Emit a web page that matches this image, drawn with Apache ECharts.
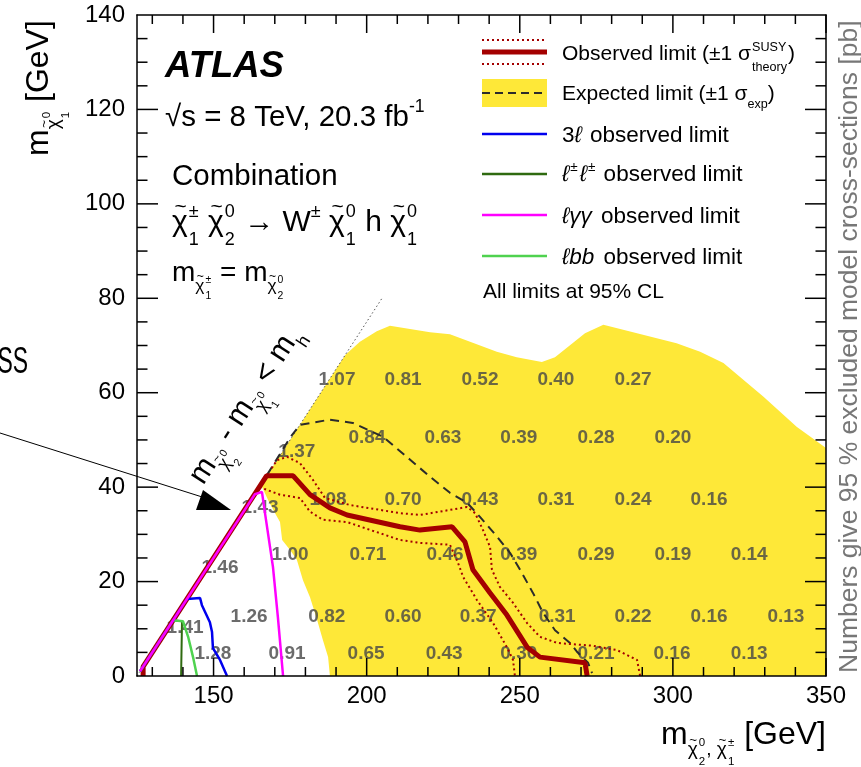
<!DOCTYPE html>
<html><head><meta charset="utf-8">
<script src="https://cdn.jsdelivr.net/npm/echarts@6/dist/echarts.min.js"></script>
<style>html,body{margin:0;padding:0;background:#fff}#c{width:861px;height:767px}</style>
</head><body><div id="c"></div>
<script>
// ---------------- data ----------------
const xMajor = [150, 200, 250, 300, 350];
const xMinor = [130, 140, 160, 170, 180, 190, 210, 220, 230, 240, 260, 270, 280, 290, 310, 320, 330, 340];
const yMajor = [20, 40, 60, 80, 100, 120];
const yMinor = [5, 10, 15, 25, 30, 35, 45, 50, 55, 65, 70, 75, 85, 90, 95, 105, 110, 115, 125, 130, 135];

// expected +-1 sigma band (yellow)
const yellowX = [188, 187.4, 185.7, 183.8, 181.5, 179.2, 177.2, 175, 172.4, 171.7, 170.5, 168, 165.5, 193, 197.8, 203.3, 207.6, 220.7, 227.2, 242.5, 249.0, 257.2, 261.5, 271.3, 277.3, 301.2, 308.9, 316.5, 329.5, 340.4, 350, 350];
const yellowY = [0, 4.0, 7.6, 11.9, 16.7, 20.3, 24.6, 26.7, 28.8, 32.6, 34, 37, 40.5, 68, 70.8, 73.0, 74.2, 72.8, 72.4, 68.7, 67.5, 66.5, 67.5, 72.6, 74.4, 70.5, 68.7, 66.3, 59.2, 52.8, 48.3, 0];

// kinematic boundary m(chi2) - m(chi1) = m(h)
const diagX = [125, 205];
const diagY = [0, 80];

// observed limit
const obsX = [127, 127, 167.3, 176, 181.5, 188, 193.6, 210.9, 217.4, 227.9, 232.1, 234.7, 240.3, 245.8, 252.4, 256.6, 271.3, 272];
const obsY = [0, 2, 42.4, 42.4, 38.4, 35.6, 34.1, 31.6, 30.9, 31.6, 28.4, 22.5, 17.6, 12.9, 6.1, 4.0, 2.8, 0];
// observed +1 sigma theory
const obsUpX = [169, 170.7, 174, 178.2, 182.5, 186.4, 194.6, 210.9, 217.4, 232.8, 235.4, 238, 240.3, 240.9, 243.5, 247.8, 252.4, 256.6, 262.2, 273.9, 281.7, 288.3, 289.3];
const obsUpY = [44, 45.7, 46.4, 45.1, 41.5, 37.7, 36.2, 34.5, 34.1, 35.8, 34.5, 30.9, 27.3, 22.5, 18.9, 15.5, 11.2, 8.3, 7.0, 6.4, 5.5, 3.4, 0];
// observed -1 sigma theory
const obsDnX = [165, 171.7, 178.2, 181.5, 185.7, 193.6, 210.9, 217.4, 227.2, 229.8, 231.5, 236, 241.3, 245.8, 247.8, 248.4];
const obsDnY = [40, 38.4, 37.7, 34.8, 33.1, 32.6, 28.8, 28.2, 27.8, 24.0, 21.0, 16.1, 11.2, 6.1, 3.4, 0];
// expected limit
const expX = [165, 175, 178.2, 188, 195.5, 205.3, 214.2, 220.7, 227.2, 232.8, 237, 242.6, 246.8, 250.1, 254.3, 257.6, 261.5, 266.4, 268.6, 272.3, 273.6];
const expY = [40, 50.5, 53.2, 54.3, 53.6, 50.7, 45.8, 42.2, 38.8, 36.7, 33.7, 29.5, 26.1, 22.5, 17.6, 13.4, 9.7, 7.0, 5.2, 2.8, 0.6];
// l gamma gamma observed
const lggX = [126, 163.5, 165.8, 166.8, 169.4, 171, 172.7];
const lggY = [1, 38.5, 39, 34.5, 23.1, 12.5, 0];
// 3l observed
const l3X = [126, 141.3, 145.6, 146.2, 148.8, 149.5, 149.8, 152.1, 154.4];
const l3Y = [1, 16.3, 16.5, 15.0, 11.4, 9.3, 5.9, 3.4, 0];
// l bb observed
const lbbX = [126, 136.8, 140, 141.7, 143.3, 144.6];
const lbbY = [1, 11.8, 11.6, 8.3, 4.0, 0];
// same-sign ll observed
const sslX = [126, 136.8, 139.7, 139.4];
const sslY = [1, 11.8, 11.6, 0];

// excluded model cross-sections [pb]
const numX = [190.3, 211.9, 237.0, 261.8, 287.0,
  177.2,
  200.1, 224.9, 249.7, 274.9, 300.0,
  187.4, 211.9, 237.0, 261.8, 287.0, 311.8,
  165.2,
  175.0, 200.4, 225.6, 249.7, 274.9, 300.0, 324.9,
  152.1,
  161.6, 187.0, 211.9, 236.4, 262.2, 287.0, 311.8, 336.9,
  140.7,
  149.8, 174.0, 199.8, 225.3, 249.7, 274.9, 299.7, 324.9];
const numY = [62.7, 62.7, 62.7, 62.7, 62.7,
  47.5,
  50.4, 50.4, 50.4, 50.4, 50.4,
  37.3, 37.3, 37.3, 37.3, 37.3, 37.3,
  35.6,
  25.6, 25.6, 25.6, 25.6, 25.6, 25.6, 25.6,
  22.9,
  12.5, 12.5, 12.5, 12.5, 12.5, 12.5, 12.5, 12.5,
  10.2,
  4.7, 4.7, 4.7, 4.7, 4.7, 4.7, 4.7, 4.7];
const numTxt = ['1.07', '0.81', '0.52', '0.40', '0.27',
  '1.37',
  '0.84', '0.63', '0.39', '0.28', '0.20',
  '1.08', '0.70', '0.43', '0.31', '0.24', '0.16',
  '1.43',
  '1.00', '0.71', '0.46', '0.39', '0.29', '0.19', '0.14',
  '1.46',
  '1.26', '0.82', '0.60', '0.37', '0.31', '0.22', '0.16', '0.13',
  '1.41',
  '1.28', '0.91', '0.65', '0.43', '0.30', '0.21', '0.16', '0.13'];

// ---------------- styles ----------------
const FONT = "'Liberation Sans', Arial, Helvetica, sans-serif";
const YELLOW = '#fee838';
const RED = '#a40000';
const C_EXP = '#2b2b2b';
const C_3L = '#0000ee';
const C_SSL = '#2f6a10';
const C_LGG = '#ff00ff';
const C_LBB = '#4fd24f';
const GRID = {left: 137, right: 35, top: 15, bottom: 91};
const XMIN = 125, XMAX = 350, YMIN = 0, YMAX = 140;

// ---------------- text helpers ----------------
const mctx = document.createElement('canvas').getContext('2d');
function tw(t, s, o) {
  mctx.font = (o.i ? 'italic ' : '') + (o.b ? 'bold ' : '') + s + 'px ' + FONT;
  return mctx.measureText(t).width;
}
function put(els, x, mid, t, s, o) {
  o = o || {};
  els.push({type: 'text', x: x, y: mid, silent: true, style: {
    text: t, fontSize: s, fontFamily: FONT, fontWeight: o.b ? 'bold' : 'normal',
    fontStyle: o.i ? 'italic' : 'normal', fill: o.fill || '#000',
    align: o.align || 'left', verticalAlign: 'middle'}});
  return tw(t, s, o);
}
const MID = 0.35;
function run(els, x, base, items, s0, fill) {
  let cx = x;
  for (const it of items) {
    const s = (it.s || 1) * s0;
    const b = base + (it.dy || 0) * s0;
    const o = {fill: it.fill || fill, i: it.i, b: it.b};
    if (it.chi || it.ss) {
      let w = 0;
      if (it.chi) {
        w = put(els, cx, b - MID * s, 'χ', s, o);
        put(els, cx + w * 0.55, b - 0.86 * s, '~', 0.7 * s, {fill: o.fill, align: 'center'});
      }
      let w2 = 0;
      const ss = 0.6 * s;
      if (it.sup) w2 = Math.max(w2, put(els, cx + w + 1, b - 0.5 * s - MID * ss, it.sup, ss, {fill: o.fill}));
      if (it.sub) w2 = Math.max(w2, put(els, cx + w + 1, b + 0.45 * s - MID * ss, it.sub, ss, {fill: o.fill}));
      cx += w + w2 + 2;
    } else {
      cx += put(els, cx, b - MID * s, it.t, s, o) + (it.gap || 0);
    }
  }
  return cx - x;
}

// ---------------- overlay text & legend ----------------
const G = [];
G.push({type: 'text', x: 28, y: 363, scaleX: 0.62, silent: true, style: {text: 'SS', fontSize: 37, fontFamily: FONT, align: 'right', verticalAlign: 'middle', fill: '#000'}});
G.push({type: 'line', silent: true, shape: {x1: 0, y1: 433, x2: 218, y2: 502}, style: {stroke: '#000', lineWidth: 1}});
G.push({type: 'polygon', silent: true, shape: {points: [[203, 490], [196, 510], [231, 510]]}, style: {fill: '#000'}});

run(G, 165, 80, [{t: 'ATLAS', b: true, i: true}], 36.5);
run(G, 165, 128, [{t: '√s = 8 TeV, 20.3 fb'}, {t: '-1', s: 0.6, dy: -0.5}], 29.5);
run(G, 172, 187, [{t: 'Combination'}], 29.5);
run(G, 172, 233, [{chi: 1, sup: '±', sub: '1'}, {t: ' '}, {chi: 1, sup: '0', sub: '2'}, {t: ' → W'}, {t: '±', s: 0.6, dy: -0.5}, {t: ' '}, {chi: 1, sup: '0', sub: '1'}, {t: ' h '}, {chi: 1, sup: '0', sub: '1'}], 30);
run(G, 172, 283, [{t: 'm'}, {chi: 1, s: 0.62, dy: 0.32, sup: '±', sub: '1'}, {t: ' = m'}, {chi: 1, s: 0.62, dy: 0.32, sup: '0', sub: '2'}], 28);

const LX1 = 482, LX2 = 547;
G.push({type: 'line', silent: true, shape: {x1: LX1, y1: 40, x2: LX2, y2: 40}, style: {stroke: RED, lineWidth: 2, lineDash: [2, 3]}});
G.push({type: 'line', silent: true, shape: {x1: LX1, y1: 52, x2: LX2, y2: 52}, style: {stroke: RED, lineWidth: 5}});
G.push({type: 'line', silent: true, shape: {x1: LX1, y1: 64, x2: LX2, y2: 64}, style: {stroke: RED, lineWidth: 2, lineDash: [2, 3]}});
G.push({type: 'rect', silent: true, shape: {x: LX1, y: 79, width: LX2 - LX1, height: 28}, style: {fill: YELLOW}});
G.push({type: 'line', silent: true, shape: {x1: LX1, y1: 93, x2: LX2, y2: 93}, style: {stroke: C_EXP, lineWidth: 2, lineDash: [8, 5]}});
G.push({type: 'line', silent: true, shape: {x1: LX1, y1: 134, x2: LX2, y2: 134}, style: {stroke: C_3L, lineWidth: 2.5}});
G.push({type: 'line', silent: true, shape: {x1: LX1, y1: 174, x2: LX2, y2: 174}, style: {stroke: C_SSL, lineWidth: 2.5}});
G.push({type: 'line', silent: true, shape: {x1: LX1, y1: 215, x2: LX2, y2: 215}, style: {stroke: C_LGG, lineWidth: 2.5}});
G.push({type: 'line', silent: true, shape: {x1: LX1, y1: 256, x2: LX2, y2: 256}, style: {stroke: C_LBB, lineWidth: 2.5}});
const TX = 562;
run(G, TX, 62, [{t: 'Observed limit (±1 σ'}, {ss: 1, sup: 'SUSY', sub: 'theory'}, {t: ')'}], 21);
run(G, TX, 102, [{t: 'Expected limit (±1 σ'}, {t: 'exp', s: 0.6, dy: 0.35}, {t: ')'}], 21);
run(G, TX, 144, [{t: '3'}, {t: 'ℓ', i: true, gap: 2}, {t: ' observed limit'}], 22.5);
run(G, TX, 183, [{t: 'ℓ', i: true, gap: 1}, {t: '±', s: 0.6, dy: -0.5, gap: 2}, {t: 'ℓ', i: true, gap: 1}, {t: '±', s: 0.6, dy: -0.5, gap: 2}, {t: ' observed limit'}], 22.5);
run(G, TX, 225, [{t: 'ℓγγ', i: true, gap: 3}, {t: ' observed limit'}], 22.5);
run(G, TX, 266, [{t: 'ℓbb', i: true, gap: 3}, {t: ' observed limit'}], 22.5);
run(G, 483, 300, [{t: 'All limits at 95% CL'}], 21);

const xTitle = [{t: 'm'}, {chi: 1, s: 0.6, dy: 0.34, sup: '0', sub: '2'}, {t: ', ', s: 0.6, dy: 0.34}, {chi: 1, s: 0.6, dy: 0.34, sup: '±', sub: '1'}, {t: ' [GeV]'}];
const xw = run([], 0, 0, xTitle, 32);
run(G, 826 - xw, 746, xTitle, 32);

const yKids = [];
run(yKids, 0, 0, [{t: 'm'}, {chi: 1, s: 0.6, dy: 0.34, sup: '0', sub: '1'}, {t: ' [GeV]'}], 32);
G.push({type: 'group', x: 50, y: 156, rotation: Math.PI / 2, children: yKids});

const dKids = [];
run(dKids, 0, 0, [{t: 'm'}, {chi: 1, s: 0.6, dy: 0.34, sup: '0', sub: '2'}, {t: ' - m'}, {chi: 1, s: 0.6, dy: 0.34, sup: '0', sub: '1'}, {t: ' < m'}, {t: 'h', s: 0.6, dy: 0.34}], 30);
G.push({type: 'group', x: 205, y: 487, rotation: Math.atan2(4.718, 3.062), children: dKids});

G.push({type: 'text', x: 850, y: 673, rotation: Math.PI / 2, silent: true, style: {text: 'Numbers give 95 % excluded model cross-sections [pb]', fontSize: 26.5, fontFamily: FONT, fill: '#777', align: 'left', verticalAlign: 'middle'}});

// ---------------- chart ----------------
function pts(xs, ys) { return xs.map((x, i) => [x, ys[i]]); }
function lineS(xs, ys, color, width, type) {
  return {type: 'line', data: pts(xs, ys), showSymbol: false, symbol: 'none', silent: true,
    lineStyle: {color: color, width: width, type: type || 'solid'}, animation: false};
}

// frame tick marks as short segments (lengths converted from pixels to axis units)
const XPU = (861 - GRID.left - GRID.right) / (XMAX - XMIN);
const YPU = (767 - GRID.top - GRID.bottom) / (YMAX - YMIN);
const tickSeries = [];
function tickS(a, b) {
  tickSeries.push({type: 'line', data: [a, b], showSymbol: false, symbol: 'none', silent: true, clip: false,
    lineStyle: {color: '#000', width: 1.5}, animation: false, z: 4});
}
xMajor.concat(xMinor).forEach(v => {
  const len = (xMajor.indexOf(v) >= 0 ? 18 : 9) / YPU;
  tickS([v, YMIN], [v, YMIN + len]);
  tickS([v, YMAX], [v, YMAX - len]);
});
yMajor.concat(yMinor).forEach(v => {
  const len = (yMajor.indexOf(v) >= 0 ? 21 : 10.5) / XPU;
  tickS([XMIN, v], [XMIN + len, v]);
  tickS([XMAX, v], [XMAX - len, v]);
});

const axLine = {show: true, onZero: false, lineStyle: {color: '#000', width: 1.5}};
function xAx(pos) {
  return {type: 'value', min: XMIN, max: XMAX, position: pos, z: 10,
    axisLine: axLine,
    axisTick: {show: false},
    axisLabel: pos === 'bottom' ? {show: true, customValues: xMajor, margin: 8, fontSize: 24, fontFamily: FONT, color: '#000'} : {show: false},
    splitLine: {show: false}};
}
function yAx(pos) {
  return {type: 'value', min: YMIN, max: YMAX, interval: 20, position: pos, z: 10,
    axisLine: axLine,
    axisTick: {show: false},
    minorTick: {show: false},
    axisLabel: pos === 'left' ? {show: true, margin: 12, fontSize: 24, fontFamily: FONT, color: '#000'} : {show: false},
    splitLine: {show: false}, minorSplitLine: {show: false}};
}

const chart = echarts.init(document.getElementById('c'), null, {renderer: 'canvas'});
chart.setOption({
  animation: false,
  backgroundColor: '#fff',
  grid: GRID,
  xAxis: [xAx('bottom'), xAx('top')],
  yAxis: [yAx('left'), yAx('right')],
  series: [
    {type: 'custom', coordinateSystem: 'cartesian2d', silent: true, clip: true,
      data: [[yellowX[0], yellowY[0]]],
      renderItem: function (params, api) {
        return {type: 'polygon', shape: {points: yellowX.map((x, i) => api.coord([x, yellowY[i]]))}, style: {fill: YELLOW}};
      }},
    {type: 'scatter', silent: true, symbolSize: 1, itemStyle: {color: 'rgba(0,0,0,0)'},
      data: pts(numX, numY),
      label: {show: true, position: 'inside', formatter: p => numTxt[p.dataIndex], fontSize: 19, fontWeight: 'bold', fontFamily: FONT, color: '#464646'}},
    lineS(diagX, diagY, '#555', 1, [1.5, 2.5]),
    lineS(expX, expY, C_EXP, 2, [9, 6]),
    lineS(obsUpX, obsUpY, RED, 2, [2, 3]),
    lineS(obsDnX, obsDnY, RED, 2, [2, 3]),
    lineS(obsX, obsY, RED, 5),
    lineS(sslX, sslY, C_SSL, 2),
    lineS(lbbX, lbbY, C_LBB, 2.5),
    lineS(l3X, l3Y, C_3L, 2.5),
    lineS(lggX, lggY, C_LGG, 2.5)
  ].concat(tickSeries),
  graphic: {elements: G}
});
</script></body></html>
